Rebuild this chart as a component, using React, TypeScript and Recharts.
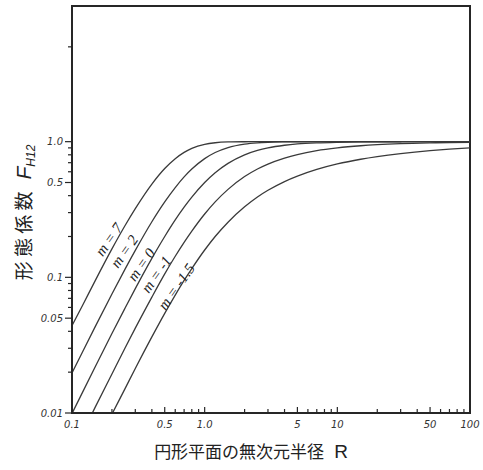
import React from 'react'
import { LineChart, Line, XAxis, YAxis, ReferenceArea, ReferenceDot } from 'recharts'

// dimensionless radius R and view factor F_H12
const radius = [0.1, 0.12, 0.15, 0.2, 0.25, 0.3, 0.4, 0.5, 0.6, 0.7, 0.8, 1, 1.2, 1.5, 2, 2.5, 3, 4, 5, 7, 10, 15, 20, 30, 50, 70, 100]
const fM7 = [0.044, 0.062, 0.095, 0.162, 0.239, 0.321, 0.487, 0.634, 0.749, 0.834, 0.892, 0.956, 0.982, 0.995, 0.999, 1, 1, 1, 1, 1, 1, 1, 1, 1, 1, 1, 1]
const fM2 = [0.0197, 0.0282, 0.0435, 0.0754, 0.114, 0.158, 0.257, 0.36, 0.459, 0.55, 0.628, 0.75, 0.832, 0.905, 0.96, 0.981, 0.99, 0.996, 0.998, 1, 1, 1, 1, 1, 1, 1, 1]
const fM0 = [0.0099, 0.0142, 0.022, 0.0385, 0.0588, 0.0826, 0.138, 0.2, 0.265, 0.329, 0.39, 0.5, 0.59, 0.692, 0.8, 0.862, 0.9, 0.941, 0.962, 0.98, 0.99, 0.996, 0.998, 0.999, 1, 1, 1]
const fMm1 = [0.005, 0.0071, 0.0111, 0.0194, 0.0299, 0.0422, 0.0715, 0.106, 0.143, 0.181, 0.219, 0.293, 0.36, 0.445, 0.553, 0.629, 0.684, 0.757, 0.804, 0.859, 0.9, 0.933, 0.95, 0.967, 0.98, 0.986, 0.99]
const fMm15 = [0.0025, 0.0036, 0.0056, 0.0098, 0.015, 0.0213, 0.0364, 0.0543, 0.074, 0.0949, 0.116, 0.159, 0.2, 0.255, 0.331, 0.391, 0.438, 0.508, 0.557, 0.624, 0.685, 0.742, 0.776, 0.817, 0.859, 0.881, 0.9]

const seriesKeys = ['m7', 'm2', 'm0', 'mm1', 'mm15']
const seriesValues = [fM7, fM2, fM0, fMm1, fMm15]

const curveLabels = ['m = 7', 'm = 2', 'm = 0', 'm = -1', 'm = -1.5']
const labelR = [0.19, 0.248, 0.333, 0.432, 0.612]
const labelF = [0.19, 0.155, 0.124, 0.105, 0.0854]

const xTicks = [0.1, 0.2, 0.3, 0.4, 0.5, 0.6, 0.7, 0.8, 0.9, 1, 2, 3, 4, 5, 6, 7, 8, 9, 10, 20, 30, 40, 50, 60, 70, 80, 90, 100]
const xTickLabels: Record<string, string> = { '0.1': '0.1', '0.5': '0.5', '1': '1.0', '5': '5', '10': '10', '50': '50', '100': '100' }
const yTicks = [0.01, 0.02, 0.03, 0.04, 0.05, 0.06, 0.07, 0.08, 0.09, 0.1, 0.2, 0.3, 0.4, 0.5, 0.6, 0.7, 0.8, 0.9, 1, 5]
const yTickLabels: Record<string, string> = { '0.01': '0.01', '0.05': '0.05', '0.1': '0.1', '0.5': '0.5', '1': '1.0' }

const data = radius.map((r, i) => {
  const row: Record<string, number> = { R: r }
  seriesKeys.forEach((k, j) => { row[k] = seriesValues[j][i] })
  return row
})

const INK = '#262626'
const tickFont = 'DejaVu Sans, sans-serif'

const XTick = (props: any) => {
  const { x, y, payload } = props
  const label = xTickLabels[String(payload.value)]
  return (
    <g>
      <line x1={x} y1={y} x2={x} y2={y - (label ? 6 : 4)} stroke={INK} strokeWidth={1.2} />
      {label && (
        <text x={x} y={y + 15} textAnchor="middle" fontSize={10} fontStyle="italic" fontFamily={tickFont} fill="#333">
          {label}
        </text>
      )}
    </g>
  )
}

const YTick = (props: any) => {
  const { x, y, payload } = props
  const label = yTickLabels[String(payload.value)]
  return (
    <g>
      <line x1={x} y1={y} x2={x - (label ? 7 : 4)} y2={y} stroke={INK} strokeWidth={1.2} />
      {label && (
        <text x={x - 9} y={y + 3.5} textAnchor="end" fontSize={10} fontStyle="italic" fontFamily={tickFont} fill="#333">
          {label}
        </text>
      )}
    </g>
  )
}

const XTitle = (props: any) => {
  const { x, y, width } = props.viewBox
  return (
    <text x={x + width / 2 - 20} y={y + 45} textAnchor="middle" fontSize={17} fontFamily="Noto Sans CJK JP, sans-serif" fill="#222">
      <tspan>円形平面の無次元半径</tspan>
      <tspan dx={10} fontSize={19} fontFamily="Liberation Sans, sans-serif">R</tspan>
    </text>
  )
}

const YTitle = (props: any) => {
  const { y, height } = props.viewBox
  const cx = 31
  const cy = y + height / 2 + 3
  return (
    <text x={cx} y={cy} transform={`rotate(-90 ${cx} ${cy})`} textAnchor="middle" fontSize={19} fontFamily="Noto Sans CJK JP, sans-serif" fill="#222">
      <tspan>形 態 係 数</tspan>
      <tspan dx={12} fontSize={21} fontStyle="italic" fontFamily="Liberation Sans, sans-serif">F</tspan>
      <tspan dy={4} fontSize={12} fontStyle="italic" fontFamily="Liberation Sans, sans-serif">H12</tspan>
    </text>
  )
}

const CurveLabel = (text: string) => (p: any) => (
  <text
    x={p.cx} y={p.cy}
    transform={`rotate(-55 ${p.cx} ${p.cy})`}
    textAnchor="middle" dominantBaseline="central"
    fontSize={15} fontStyle="italic" fontFamily="Liberation Serif, serif" fill="#222"
  >
    {text}
  </text>
)

export default function App() {
  return (
    <div style={{ position: 'absolute', left: 0, top: 0, width: 483, height: 470, background: '#fff' }}>
      <LineChart width={483} height={470} data={data} margin={{ top: 6, right: 13, bottom: 27, left: 12 }}>
        <XAxis
          dataKey="R" type="number" scale="log" domain={[0.1, 100]} allowDataOverflow
          ticks={xTicks} interval={0} tick={<XTick />} tickLine={false} tickSize={0} tickMargin={0}
          height={30} axisLine={{ stroke: INK, strokeWidth: 2 }}
          label={{ content: (p: any) => <XTitle {...p} /> }}
        />
        <YAxis
          type="number" scale="log" domain={[0.01, 10]} allowDataOverflow
          ticks={yTicks} interval={0} tick={<YTick />} tickLine={false} tickSize={0} tickMargin={0}
          width={60} axisLine={{ stroke: INK, strokeWidth: 2 }}
          label={{ content: (p: any) => <YTitle {...p} /> }}
        />
        <ReferenceArea x1={0.1} x2={100} y1={0.01} y2={10} fill="none" stroke={INK} strokeWidth={2} ifOverflow="visible" />
        {seriesKeys.map((k) => (
          <Line key={k} dataKey={k} type="monotone" dot={false} stroke="#3a3a3a" strokeWidth={1.3} isAnimationActive={false} />
        ))}
        {curveLabels.map((t, i) => (
          <ReferenceDot key={t} x={labelR[i]} y={labelF[i]} r={1} ifOverflow="visible" shape={CurveLabel(t)} />
        ))}
      </LineChart>
    </div>
  )
}
